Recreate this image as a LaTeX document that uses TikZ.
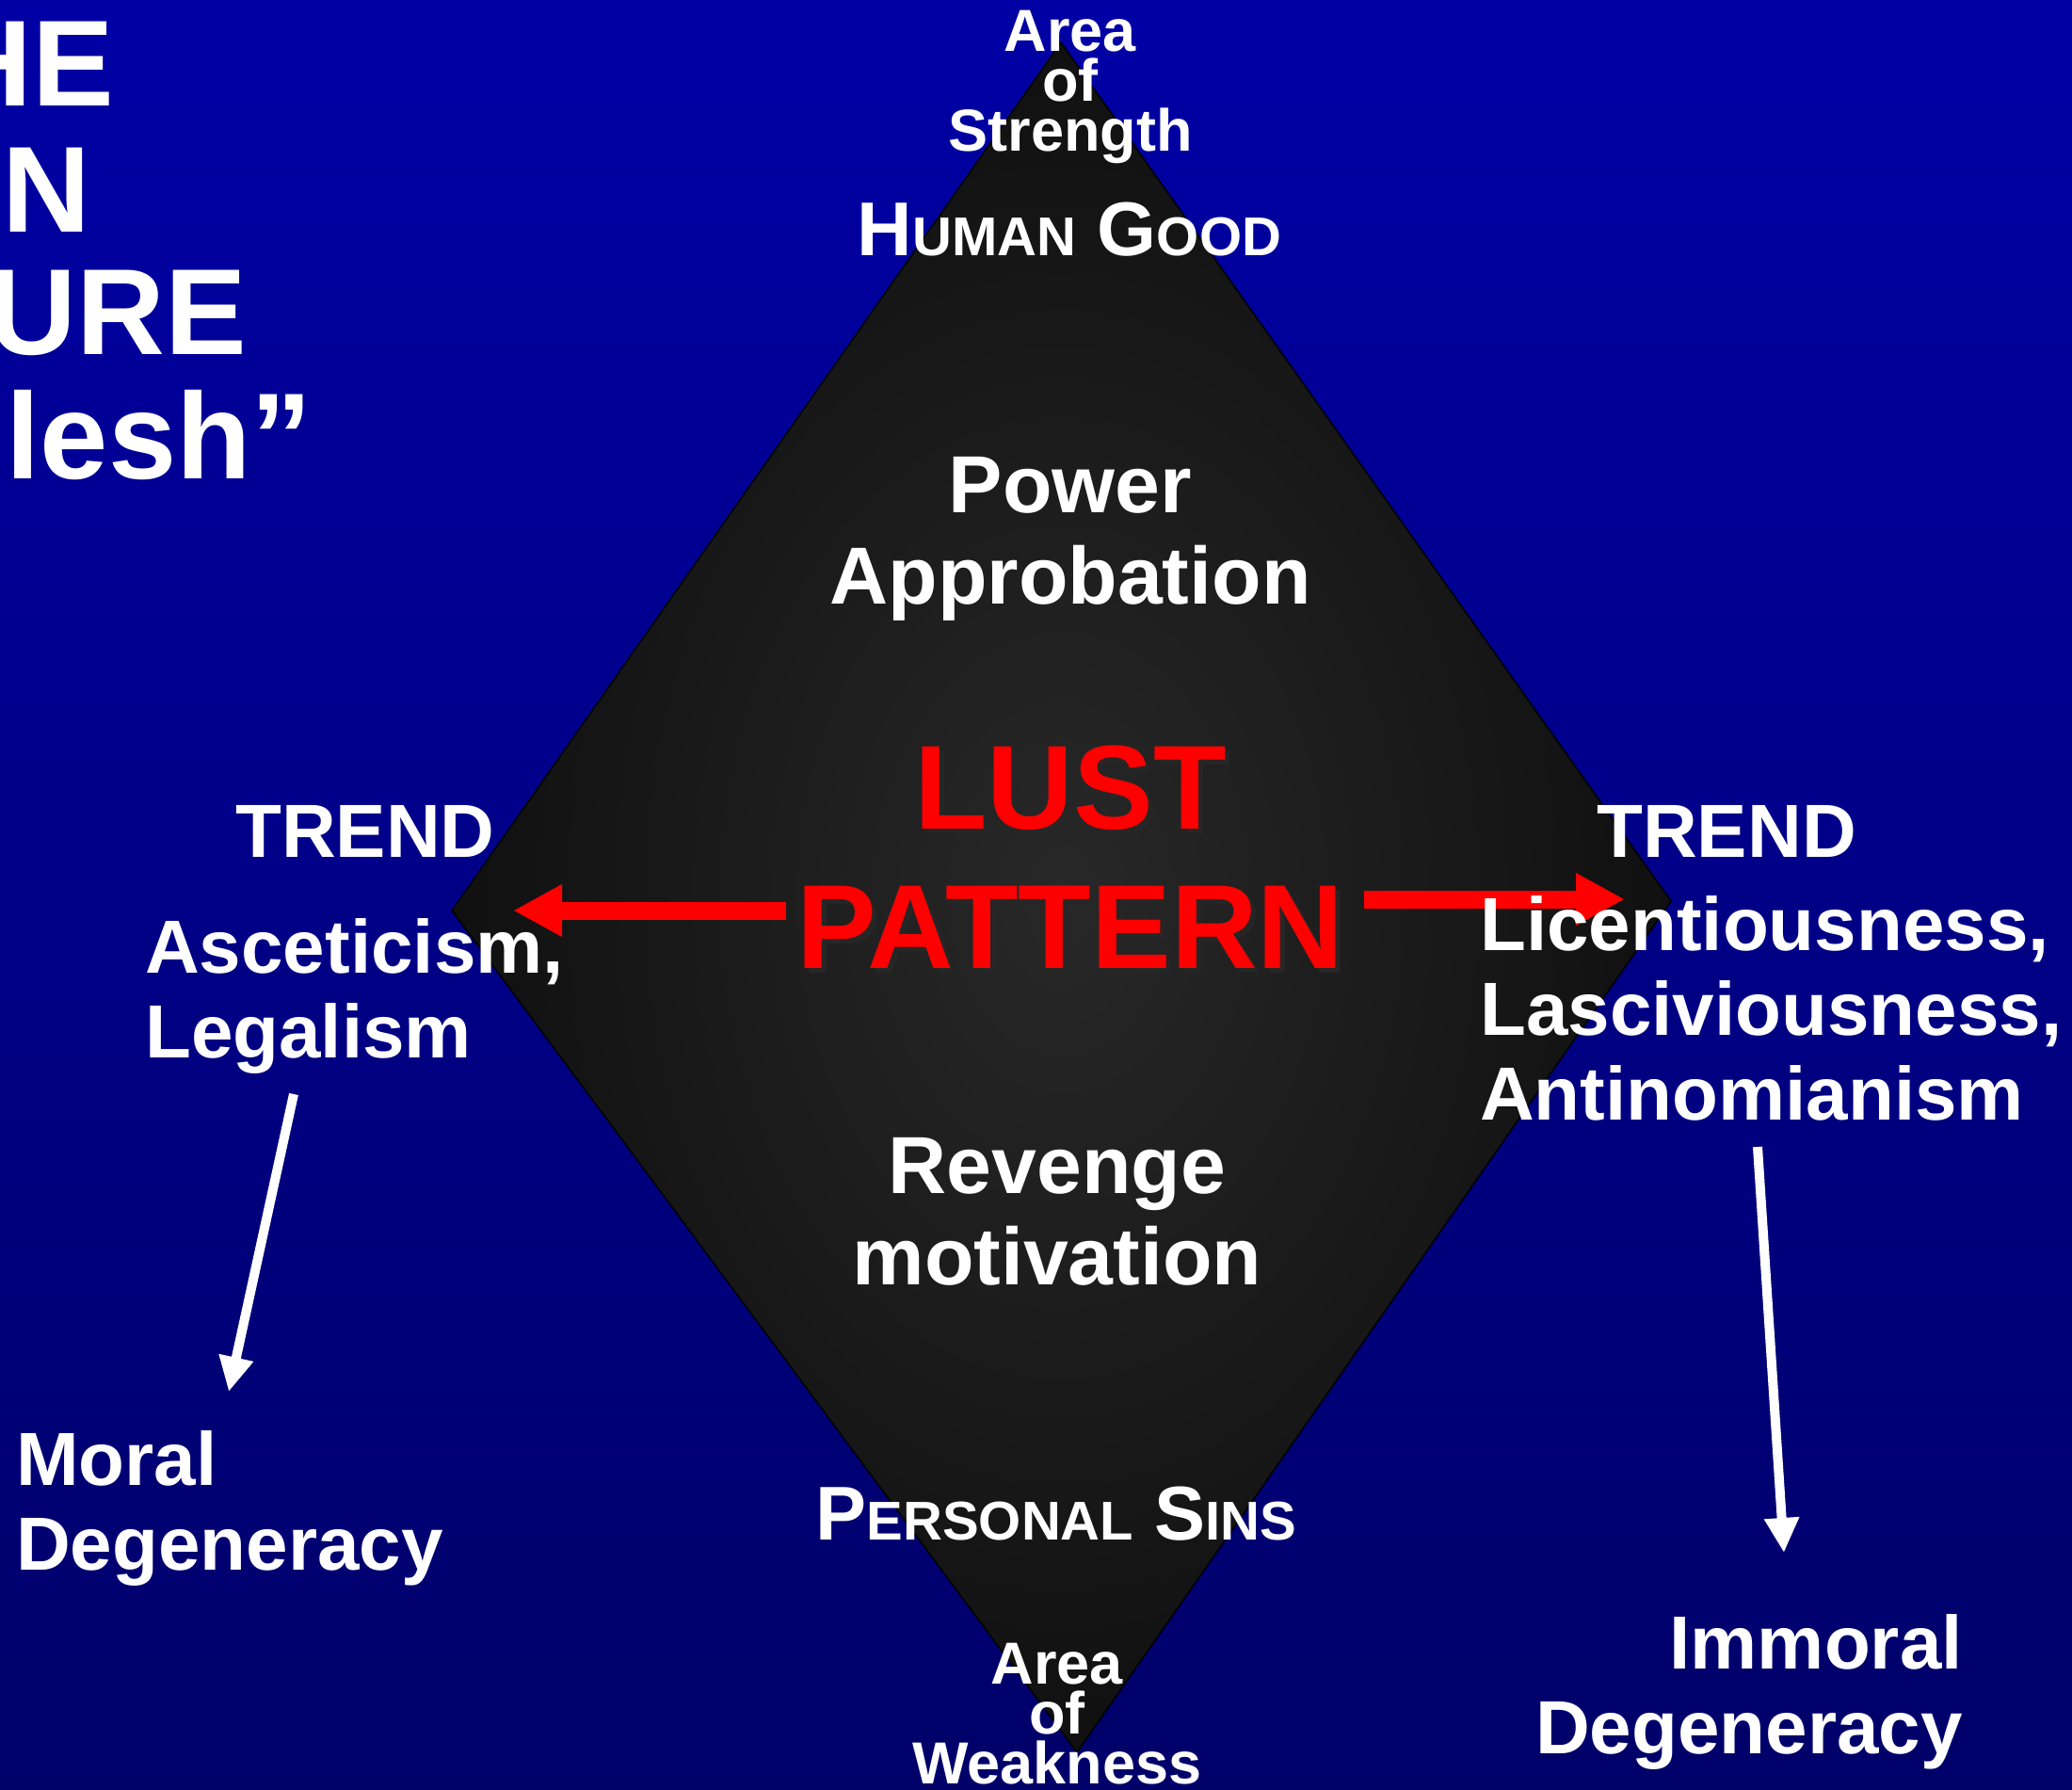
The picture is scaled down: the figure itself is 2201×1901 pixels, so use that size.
\documentclass[tikz,border=0pt]{standalone}
\usepackage{fontspec}
\setmainfont{Liberation Sans}
\usetikzlibrary{arrows.meta,positioning}

\definecolor{bgtop}{RGB}{0,0,165}
\definecolor{bgbot}{RGB}{0,0,105}
\definecolor{diamin}{RGB}{40,40,40}
\definecolor{diamout}{RGB}{16,16,16}
\definecolor{lustred}{RGB}{255,0,0}

\newcommand{\sz}[2]{\fontsize{#1}{#2}\selectfont}
\newcommand{\scword}[2]{{\sz{81}{81}#1}{\sz{58}{58}#2}}

\begin{document}
\begin{tikzpicture}[x=1pt,y=-1pt,
    wtext/.style={text=white,inner sep=0pt,font=\bfseries},
    areatext/.style={wtext,align=center,font=\bfseries\sz{63}{53}},
    sctext/.style={wtext,font=\bfseries\sz{81}{81}},
    maintext/.style={wtext,align=center,font=\bfseries\sz{86}{97}},
    lusttext/.style={inner sep=0pt,text=lustred,align=center,font=\bfseries\sz{127}{148}},
    sidetext/.style={wtext,font=\bfseries\sz{80}{90}},
    titletext/.style={wtext,font=\bfseries\sz{130}{132}},
    redarrow/.style={draw=lustred,line width=19pt,-{Triangle[length=52pt,width=52pt]}},
    whitearrow/.style={draw=white,line width=10pt,-{Triangle[length=37pt,width=35pt]}}]
    \useasboundingbox (0,0) rectangle (2201,1901);
    \clip (0,0) rectangle (2201,1901);
    \shade[top color=bgtop,bottom color=bgbot] (0,0) rectangle (2201,1901);

    % the diamond
    \coordinate (dtop) at (1127,45);
    \coordinate (dright) at (1775,957);
    \coordinate (dbottom) at (1144,1861);
    \coordinate (dleft) at (480,967);
    \shade[inner color=diamin,outer color=diamout,draw=black,line width=1.5pt]
        (dtop) -- (dright) -- (dbottom) -- (dleft) -- cycle;

    % arrows
    \coordinate (redL0) at (835,967);
    \coordinate (redL1) at (545,967);
    \coordinate (redR0) at (1449,955);
    \coordinate (redR1) at (1726,955);
    \coordinate (whiteL0) at (312,1162);
    \coordinate (whiteL1) at (243,1478);
    \coordinate (whiteR0) at (1867,1218);
    \coordinate (whiteR1) at (1895,1649);
    \draw[redarrow] (redL0) -- (redL1);
    \draw[redarrow] (redR0) -- (redR1);
    \draw[whitearrow] (whiteL0) -- (whiteL1);
    \draw[whitearrow] (whiteR0) -- (whiteR1);

    % title, cut off at the left edge
    \node[titletext,anchor=base east] (the) at (121,112) {HE};
    \node[titletext,anchor=base east] (sin) at (97,246) {N};
    \node[titletext,anchor=base east] (nature) at (262,376) {URE};
    \node[titletext,anchor=base east] (flesh) at (332,508) {lesh”};

    % inside the diamond
    \node[areatext,anchor=north] (strength) at (1137,11) {Area\\of\\Strength};
    \node[sctext,anchor=base] (humangood) at (1136,271) {\scword{H}{UMAN} \scword{G}{OOD}};
    \node[maintext,anchor=north] (power) at (1137,485) {Power\\Approbation};
    \node[lusttext,text=black!85,anchor=north] (lustshadow) at (1142,797) {LUST\\PATTERN};
    \node[lusttext,anchor=north] (lust) at (1137,792) {LUST\\PATTERN};
    \node[maintext,anchor=north] (revenge) at (1123,1208) {Revenge\\motivation};
    \node[sctext,anchor=base] (personal) at (1122,1635) {\scword{P}{ERSONAL} \scword{S}{INS}};
    \node[areatext,anchor=north] (weakness) at (1123,1745) {Area\\of\\Weakness};

    % the two trends
    \node[sidetext,anchor=base] (trendL) at (388,910) {TREND};
    \node[sidetext,anchor=north west,align=left] (ascet) at (154,975) {Asceticism,\\Legalism};
    \node[sidetext,anchor=north west,align=left] (moral) at (17,1519) {Moral\\Degeneracy};
    \node[sidetext,anchor=base] (trendR) at (1834,910) {TREND};
    \node[sidetext,anchor=north west,align=left] (licent) at (1572,951)
        {Licentiousness,\\Lasciviousness,\\Antinomianism};
    \node[sidetext,anchor=north east,align=right] (immoral) at (2085,1714) {Immoral\\Degeneracy};
\end{tikzpicture}
\end{document}
